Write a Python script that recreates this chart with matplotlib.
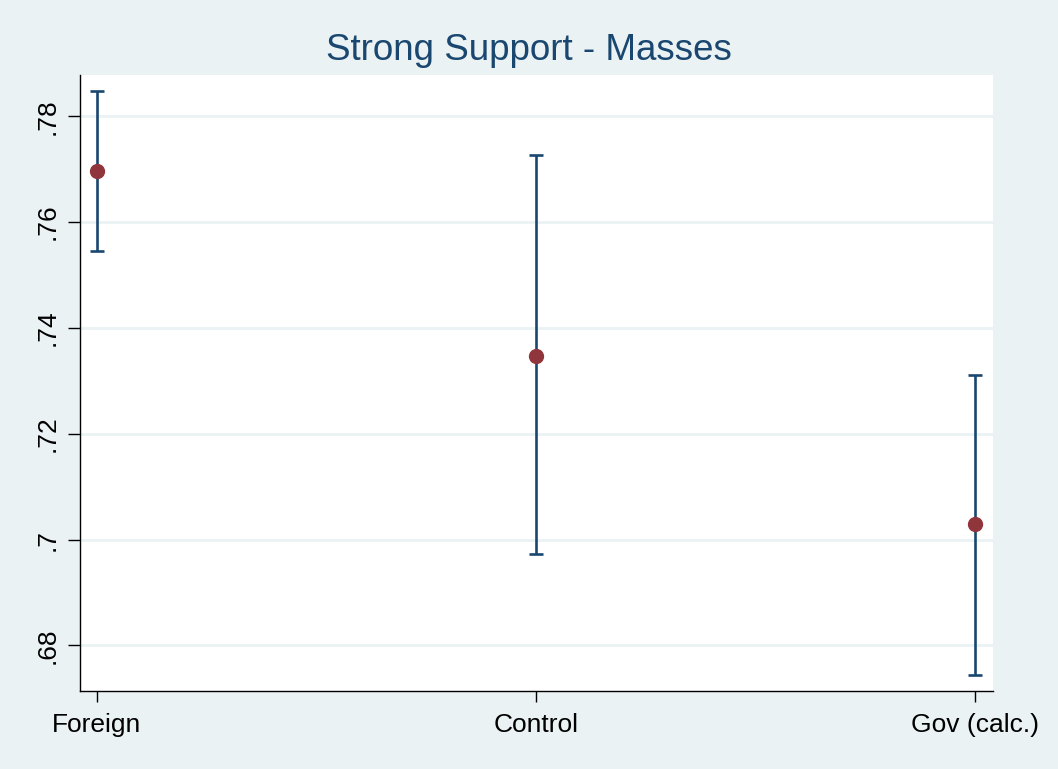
import matplotlib
matplotlib.use("Agg")
import matplotlib.pyplot as plt
import matplotlib.ticker as tkr

# group means with confidence bounds
groups = ["Foreign", "Control", "Gov (calc.)"]
means = [0.7696, 0.7347, 0.7029]
upper = [0.7847, 0.7726, 0.7312]
lower = [0.7546, 0.6973, 0.6744]
yticks = [0.68, 0.70, 0.72, 0.74, 0.76, 0.78]

BG = "#EAF2F3"
NAVY = "#1A476F"
MAROON = "#90353B"

plt.rcParams['font.family'] = ['Liberation Sans', 'DejaVu Sans']

fig = plt.figure(figsize=(10.58, 7.69), dpi=100, facecolor=BG)
ax = fig.add_axes([80 / 1058, 1 - 691 / 769, 913 / 1058, 616 / 769])
ax.set_facecolor("white")

xs = list(range(1, len(groups) + 1))
yerr = [[m - l for m, l in zip(means, lower)],
        [u - m for m, u in zip(means, upper)]]
ax.errorbar(xs, means, yerr=yerr, fmt="none", ecolor=NAVY,
            elinewidth=1.9, capsize=5, capthick=1.9, zorder=3)
ax.plot(xs, means, "o", color=MAROON, markersize=10, zorder=4)

ax.set_xlim(0.962, 3.041)
ax.set_ylim(0.6714, 0.7878)
ax.set_xticks(xs)
ax.set_xticklabels(groups)
ax.set_yticks(yticks)

# Stata style labels: drop leading zero and trailing zeros
ax.yaxis.set_major_formatter(tkr.FuncFormatter(
    lambda v, pos: ("%g" % round(v, 4)).lstrip("0")))
plt.setp(ax.get_yticklabels(), rotation=90, va="center")

ax.yaxis.grid(True, color=BG, linewidth=2)
ax.set_axisbelow(True)
for side in ["top", "right"]:
    ax.spines[side].set_visible(False)
for side in ["left", "bottom"]:
    ax.spines[side].set_color("black")
    ax.spines[side].set_linewidth(1)

ax.tick_params(axis="y", length=8.5, width=1, labelsize=19, pad=6)
ax.tick_params(axis="x", length=8, width=1, labelsize=19, pad=8)

fig.text(0.5, 1 - 50 / 769, "Strong Support - Masses", ha="center",
         va="center", fontsize=26.5, color=NAVY)

fig.savefig("out.png", dpi=100, facecolor=BG)
